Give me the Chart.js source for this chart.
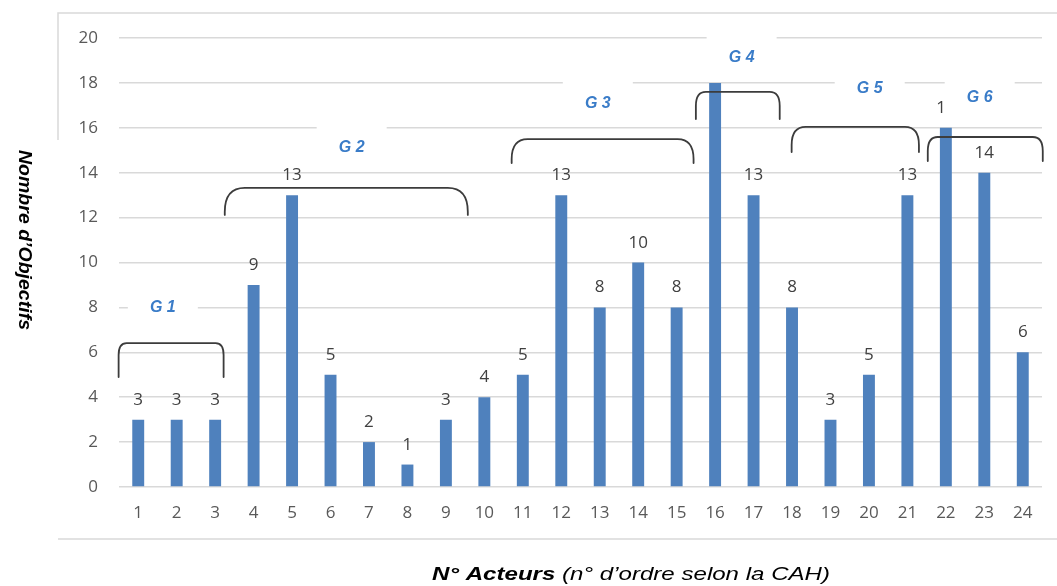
<!DOCTYPE html>
<html>
<head>
<meta charset="utf-8">
<script src="https://cdn.jsdelivr.net/npm/chart.js@4.4.1/dist/chart.umd.min.js"></script>
<style>
  html, body { margin: 0; padding: 0; background: #ffffff; overflow: hidden; }
  #wrap { width: 1057px; height: 586px; position: relative; }
</style>
</head>
<body>
<div id="wrap"><canvas id="c" width="1057" height="586"></canvas></div>
<script>
// Actor numbers (order from the hierarchical clustering) and objectives per actor
const acteurs = ['1','2','3','4','5','6','7','8','9','10','11','12',
                 '13','14','15','16','17','18','19','20','21','22','23','24'];
const objectifs = [3, 3, 3, 9, 13, 5, 2, 1, 3, 4, 5, 13, 8, 10, 8, 18, 13, 8, 3, 5, 13, 16, 14, 6];

// Group brackets, in axis units (category index / number of objectives)
const groupNames   = ['G 1', 'G 2', 'G 3', 'G 4', 'G 5', 'G 6'];
const groupFrom    = [-0.51, 2.25, 9.71, 14.50, 16.99, 20.53];
const groupTo      = [2.22, 8.57, 14.44, 16.68, 20.30, 23.52];
const groupTop     = [6.41, 13.32, 15.50, 17.60, 16.04, 15.59];
const groupFoot    = [4.90, 12.12, 14.43, 16.39, 14.92, 14.52];
const groupLabelX  = [0.64, 5.55, 11.95, 15.69, 19.02, 21.88];
const groupLabelY  = [7.97, 15.14, 17.06, 19.11, 17.73, 17.33];

const AXIS_FONT = '"Open Sans", "Liberation Sans", sans-serif';
const TEXT_FONT = '"Liberation Sans", Arial, sans-serif';
const GRID = '#D9D9D9';

// draws runs of text squeezed/stretched to a given overall length
function drawFitted(ctx, parts, length) {
  let total = 0;
  parts.forEach(p => { ctx.font = p.font; p.w = ctx.measureText(p.text).width; total += p.w; });
  const k = length / total;
  ctx.scale(k, 1);
  let x = -total / 2;
  ctx.textAlign = 'left';
  parts.forEach(p => { ctx.font = p.font; ctx.fillText(p.text, x, 0); x += p.w; });
}

const decorations = {
  id: 'decorations',
  beforeDraw(chart) {
    const ctx = chart.ctx;
    ctx.save();
    ctx.fillStyle = '#ffffff';
    ctx.fillRect(0, 0, chart.width, chart.height);
    // light frame around the chart
    ctx.strokeStyle = GRID;
    ctx.lineWidth = 1.5;
    ctx.beginPath();
    ctx.moveTo(58, 140); ctx.lineTo(58, 13); ctx.lineTo(1057, 13);
    ctx.moveTo(58, 539); ctx.lineTo(1057, 539);
    ctx.stroke();
    ctx.restore();
  },
  afterDatasetsDraw(chart) {
    const ctx = chart.ctx;
    const xs = chart.scales.x, ys = chart.scales.y;
    const meta = chart.getDatasetMeta(0);
    ctx.save();
    // value labels above the bars
    ctx.fillStyle = '#404040';
    ctx.font = '17px ' + AXIS_FONT;
    ctx.textAlign = 'center';
    ctx.textBaseline = 'alphabetic';
    meta.data.forEach((bar, i) => {
      ctx.fillText(String(objectifs[i]), bar.x, bar.y - 15);
    });
    // group captions on white boxes
    groupNames.forEach((name, i) => {
      const cx = xs.getPixelForValue(groupLabelX[i]);
      const cy = ys.getPixelForValue(groupLabelY[i]);
      ctx.fillStyle = '#ffffff';
      ctx.fillRect(cx - 35, cy - 22, 70, 44);
      ctx.fillStyle = '#3A7CC8';
      ctx.font = 'italic bold 16px ' + TEXT_FONT;
      ctx.textBaseline = 'middle';
      ctx.fillText(name, cx, cy);
    });
    // brackets
    const radii = [[8, 12], [20, 24], [16, 20], [10, 14], [14, 18], [10, 14]];
    ctx.strokeStyle = '#3C3C3C';
    ctx.lineWidth = 1.8;
    ctx.lineCap = 'round';
    groupNames.forEach((name, i) => {
      const l = xs.getPixelForValue(groupFrom[i]);
      const r = xs.getPixelForValue(groupTo[i]);
      const t = ys.getPixelForValue(groupTop[i]);
      const b = ys.getPixelForValue(groupFoot[i]);
      const [rx, ry0] = radii[i];
      const ry = Math.min(ry0, b - t);
      ctx.beginPath();
      ctx.moveTo(l, b);
      ctx.lineTo(l, t + ry);
      ctx.quadraticCurveTo(l, t, l + rx, t);
      ctx.lineTo(r - rx, t);
      ctx.quadraticCurveTo(r, t, r, t + ry);
      ctx.lineTo(r, b);
      ctx.stroke();
    });
    ctx.restore();
  },
  afterDraw(chart) {
    const ctx = chart.ctx;
    ctx.save();
    ctx.fillStyle = '#000000';
    ctx.textBaseline = 'alphabetic';
    // horizontal axis title
    ctx.translate(631, 580);
    drawFitted(ctx, [
      { text: 'N° Acteurs', font: 'italic bold 19px ' + TEXT_FONT },
      { text: ' (n° d’ordre selon la CAH)', font: 'italic 19px ' + TEXT_FONT }
    ], 398);
    ctx.restore();
    // vertical axis title, reading downwards
    ctx.save();
    ctx.fillStyle = '#000000';
    ctx.textBaseline = 'middle';
    ctx.translate(24, 240);
    ctx.rotate(Math.PI / 2);
    drawFitted(ctx, [{ text: 'Nombre d’Objectifs', font: 'italic bold 18px ' + TEXT_FONT }], 180);
    ctx.restore();
  }
};

new Chart(document.getElementById('c'), {
  type: 'bar',
  data: {
    labels: acteurs,
    datasets: [{
      data: objectifs,
      backgroundColor: '#4F81BD',
      borderWidth: 0,
      barPercentage: 0.62,
      categoryPercentage: 0.5
    }]
  },
  options: {
    responsive: false,
    animation: false,
    events: [],
    layout: { padding: { top: 38, right: 15, left: 0, bottom: 0 } },
    plugins: { legend: { display: false }, tooltip: { enabled: false }, title: { display: false } },
    scales: {
      x: {
        grid: { display: false, drawTicks: false },
        border: { display: false },
        ticks: { color: '#595959', font: { family: AXIS_FONT, size: 17 }, padding: 16, maxRotation: 0, autoSkip: false },
        afterFit(s) { s.height = 99; }
      },
      y: {
        min: 0, max: 20,
        grid: { color: GRID, lineWidth: 1.5, drawTicks: false },
        border: { display: false },
        ticks: { stepSize: 2, color: '#595959', font: { family: AXIS_FONT, size: 17 }, padding: 21 },
        afterFit(s) { s.width = 119; }
      }
    }
  },
  plugins: [decorations]
});
</script>
</body>
</html>
